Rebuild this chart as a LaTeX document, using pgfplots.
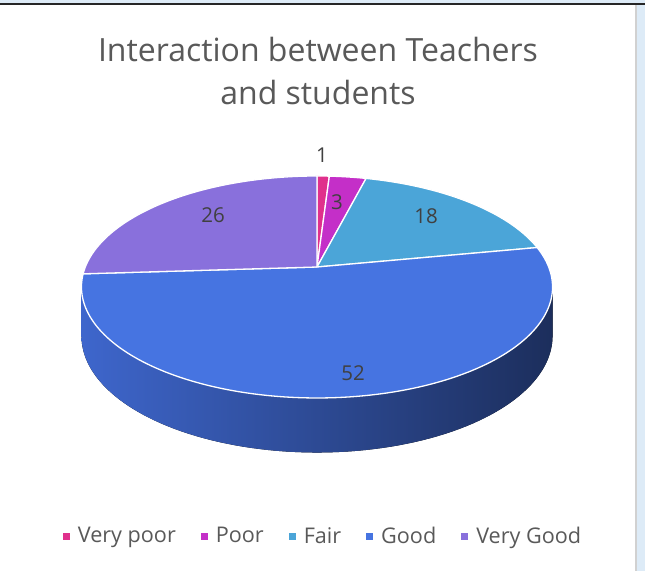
\documentclass[border=0pt]{standalone}
\usepackage{pgfplots}
\pgfplotsset{compat=1.18}
\usepackage{pgfplotstable}
\usepackage{fontspec}
\setmainfont{Open Sans}

\definecolor{cVP}{RGB}{224,48,140}
\definecolor{cP}{RGB}{196,47,200}
\definecolor{cF}{RGB}{75,165,216}
\definecolor{cG}{RGB}{70,116,225}
\definecolor{cVG}{RGB}{137,112,220}
\definecolor{sideL}{RGB}{62,102,204}
\definecolor{sideM}{RGB}{42,72,145}
\definecolor{sideR}{RGB}{28,46,92}
\definecolor{titlegray}{RGB}{89,89,89}
\definecolor{labgray}{RGB}{64,64,64}
\definecolor{edgeblue}{RGB}{221,235,247}

\pgfplotstableread{
label value
VeryPoor 1
Poor 3
Fair 18
Good 52
VeryGood 26
}\piedata

\begin{document}
\begin{tikzpicture}[declare function={px(\t)=317+231.7*cos(\t)/(1+0.18*sin(\t));
 py(\t)=267-107.4*sin(\t)/(1+0.18*sin(\t));
 dz(\t)=48/(1+0.12*sin(\t));}]
\pgfplotstablegetelem{0}{value}\of\piedata \let\vA\pgfplotsretval
\pgfplotstablegetelem{1}{value}\of\piedata \let\vB\pgfplotsretval
\pgfplotstablegetelem{2}{value}\of\piedata \let\vC\pgfplotsretval
\pgfplotstablegetelem{3}{value}\of\piedata \let\vD\pgfplotsretval
\pgfplotstablegetelem{4}{value}\of\piedata \let\vE\pgfplotsretval
\pgfmathsetmacro\aA{90}
\pgfmathsetmacro\aB{\aA-3.6*\vA}
\pgfmathsetmacro\aC{\aB-3.6*\vB}
\pgfmathsetmacro\aD{\aC-3.6*\vC}
\pgfmathsetmacro\aE{\aD-3.6*\vD}
\pgfmathsetmacro\aF{\aE-3.6*\vE}
\begin{axis}[width=645pt,height=571pt,scale only axis,
  xmin=0,xmax=645,ymin=0,ymax=571,y dir=reverse,
  axis lines=none,clip=false,
  legend columns=5,
  legend image code/.code={\fill[#1,draw=none] (0pt,-3.5pt) rectangle (7pt,3.5pt);},
  legend style={at={(axis cs:323,536)},anchor=center,draw=none,fill=none,
    font=\fontsize{21.6}{25}\selectfont,text=titlegray,
    /tikz/every odd column/.append style={column sep=6pt},
    /tikz/every even column/.append style={column sep=23pt}},
  ]
% background and frame
\fill[white] (axis cs:0,0) rectangle (axis cs:645,571);
\fill[edgeblue] (axis cs:0,0) rectangle (axis cs:645,3);
\fill[edgeblue] (axis cs:637,0) rectangle (axis cs:645,571);
\fill[black!85] (axis cs:0,3) rectangle (axis cs:645,5);
\fill[black!18] (axis cs:634.5,5) rectangle (axis cs:637,571);
% side of the pie
\fill[left color=sideL,middle color=sideM,right color=sideR]
  plot[domain=190.4:349.6,samples=90] ({px(\x)},{py(\x)})
  -- plot[domain=349.6:190.4,samples=90] ({px(\x)},{py(\x)+dz(\x)}) -- cycle;
% top face slices
\addplot[forget plot,fill=cVP,draw=white,line width=1.3pt,line join=round,domain=\aB:\aA,samples=10] ({px(x)},{py(x)}) -- (axis cs:317,267) -- cycle;
\addplot[forget plot,fill=cP,draw=white,line width=1.3pt,line join=round,domain=\aC:\aB,samples=15] ({px(x)},{py(x)}) -- (axis cs:317,267) -- cycle;
\addplot[forget plot,fill=cF,draw=white,line width=1.3pt,line join=round,domain=\aD:\aC,samples=50] ({px(x)},{py(x)}) -- (axis cs:317,267) -- cycle;
\addplot[forget plot,fill=cG,draw=white,line width=1.3pt,line join=round,domain=\aE:\aD,samples=140] ({px(x)},{py(x)}) -- (axis cs:317,267) -- cycle;
\addplot[forget plot,fill=cVG,draw=white,line width=1.3pt,line join=round,domain=\aF:\aE,samples=70] ({px(x)},{py(x)}) -- (axis cs:317,267) -- cycle;
% data labels
\begin{scope}[every node/.style={font=\fontsize{20.5}{24}\selectfont,text=labgray}]
\node at (axis cs:322,155) {1};
\node at (axis cs:337,202) {3};
\node at (axis cs:426,216) {18};
\node at (axis cs:353,373) {52};
\node at (axis cs:213,215) {26};
\end{scope}
% title
\begin{scope}[every node/.style={font=\fontsize{32}{42}\selectfont,text=titlegray,anchor=base,inner sep=0pt}]
\node at (axis cs:318,61) {Interaction between Teachers};
\node at (axis cs:318,104) {and students};
\end{scope}
% legend
\addlegendimage{fill=cVP}\addlegendentry{Very poor}
\addlegendimage{fill=cP}\addlegendentry{Poor}
\addlegendimage{fill=cF}\addlegendentry{Fair}
\addlegendimage{fill=cG}\addlegendentry{Good}
\addlegendimage{fill=cVG}\addlegendentry{Very Good}
\end{axis}
\end{tikzpicture}
\end{document}
